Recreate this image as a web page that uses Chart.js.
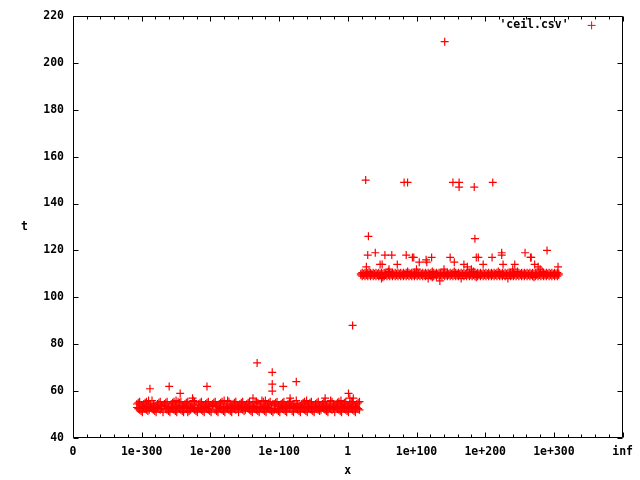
<!DOCTYPE html>
<html><head><meta charset="utf-8">
<script src="https://cdn.jsdelivr.net/npm/chart.js@4/dist/chart.umd.min.js"></script>
<style>html,body{margin:0;padding:0;background:#fff;}canvas{display:block;}</style>
</head><body>
<canvas id="c" width="640" height="480"></canvas>
<script>
// x values are decimal exponents (log10 of x); -400 stands for 0 and 400 for inf
const xTickValues = [-400, -300, -200, -100, 0, 100, 200, 300, 400];
const xTickLabels = ['0', '1e-300', '1e-200', '1e-100', '1', '1e+100', '1e+200', '1e+300', 'inf'];
const yTickValues = [40, 60, 80, 100, 120, 140, 160, 180, 200, 220];
const seriesLabel = "'ceil.csv'";
const xTitle = 'x';
const yTitle = 't';

// dense band of small inputs (two samples per x)
const lowBandX = [-307,-305,-303,-301,-299,-297,-295,-293,-291,-289,
  -287,-285,-283,-281,-279,-277,-275,-273,-271,-269,
  -267,-265,-263,-261,-259,-257,-255,-253,-251,-249,
  -247,-245,-243,-241,-239,-237,-235,-233,-231,-229,
  -227,-225,-223,-221,-219,-217,-215,-213,-211,-209,
  -207,-205,-203,-201,-199,-197,-195,-193,-191,-189,
  -187,-185,-183,-181,-179,-177,-175,-173,-171,-169,
  -167,-165,-163,-161,-159,-157,-155,-153,-151,-149,
  -147,-145,-143,-141,-139,-137,-135,-133,-131,-129,
  -127,-125,-123,-121,-119,-117,-115,-113,-111,-109,
  -107,-105,-103,-101,-99,-97,-95,-93,-91,-89,
  -87,-85,-83,-81,-79,-77,-75,-73,-71,-69,
  -67,-65,-63,-61,-59,-57,-55,-53,-51,-49,
  -47,-45,-43,-41,-39,-37,-35,-33,-31,-29,
  -27,-25,-23,-21,-19,-17,-15,-13,-11,-9,
  -7,-5,-3,-1,1,3,5,7,9,11,
  13,15,17];
const lowBandY = [53,55,52,54,51, 53,55,52,54,52, 53,56,52,54,51, 53,55,52,54,51,
  54,55,52,53,51, 53,55,52,54,51, 53,55,52,54,51, 53,55,51,54,52,
  53,56,52,54,51, 53,55,52,54,51, 53,55,52,54,51, 54,55,52,54,51,
  53,55,52,53,51, 53,56,52,54,51, 53,55,52,54,51, 53,55,52,54,52,
  53,55,52,54,51, 53,55,52,55,51, 53,56,52,54,51, 53,55,52,54,51,
  52,55,52,54,51, 53,55,52,54,51, 53,55,53,54,51, 53,56,52,54,51,
  53,55,52,54,51, 53,55,52,54,51, 53,55,52,54,52, 53,55,52,54,51,
  53,56,52,54,51, 53,55,52,54,51, 53,55,52,54,51, 53,55,52,54,51,
  53,55,52];
const lowBandY2 = [54.5,52.5,55.5,51.5,53.5, 54.5,52.5,55.5,51.5,53.5, 54.5,52.5,54.5,51.5,53.5, 54.5,52.5,55.5,52.5,53.5,
  54.5,52.5,55.5,51.5,53.5, 54.5,52.5,55.5,51.5,53.5, 55.5,52.5,55.5,51.5,53.5, 54.5,52.5,55.5,51.5,53.5,
  54.5,52.5,55.5,51.5,52.5, 54.5,52.5,55.5,51.5,53.5, 54.5,52.5,55.5,51.5,53.5, 54.5,53.5,55.5,51.5,53.5,
  54.5,52.5,55.5,51.5,53.5, 54.5,52.5,55.5,51.5,53.5, 54.5,52.5,55.5,52.5,53.5, 54.5,52.5,55.5,51.5,53.5,
  54.5,52.5,55.5,51.5,53.5, 53.5,52.5,55.5,51.5,53.5, 54.5,52.5,55.5,51.5,53.5, 54.5,52.5,55.5,51.5,54.5,
  54.5,52.5,55.5,51.5,53.5, 54.5,52.5,55.5,51.5,53.5, 54.5,52.5,55.5,51.5,53.5, 54.5,52.5,54.5,51.5,53.5,
  54.5,52.5,55.5,51.5,53.5, 54.5,52.5,55.5,51.5,53.5, 54.5,52.5,55.5,51.5,53.5, 54.5,52.5,55.5,51.5,53.5,
  54.5,52.5,55.5,52.5,53.5, 54.5,52.5,55.5,51.5,53.5, 54.5,52.5,55.5,51.5,53.5, 54.5,52.5,55.5,51.5,53.5,
  54.5,52.5,55.5];

// dense band of large inputs (two samples per x)
const highBandX = [19,21,23,25,27,29,31,33,35,37,
  39,41,43,45,47,49,51,53,55,57,
  59,61,63,65,67,69,71,73,75,77,
  79,81,83,85,87,89,91,93,95,97,
  99,101,103,105,107,109,111,113,115,117,
  119,121,123,125,127,129,131,133,135,137,
  139,141,143,145,147,149,151,153,155,157,
  159,161,163,165,167,169,171,173,175,177,
  179,181,183,185,187,189,191,193,195,197,
  199,201,203,205,207,209,211,213,215,217,
  219,221,223,225,227,229,231,233,235,237,
  239,241,243,245,247,249,251,253,255,257,
  259,261,263,265,267,269,271,273,275,277,
  279,281,283,285,287,289,291,293,295,297,
  299,301,303,305,307];
const highBandY = [110,109,110,109,110,109,111,109,110,109,
  110,109,110,109,110,108,110,109,110,109,
  111,109,110,109,110,109,110,109,110,109,
  110,109,110,109,111,109,110,109,110,109,
  110,109,110,109,110,109,110,109,110,108,
  110,109,111,109,110,109,110,109,110,109,
  110,109,110,109,110,109,110,109,111,109,
  110,109,110,108,110,109,110,109,110,109,
  110,109,111,109,110,109,110,109,110,109,
  110,109,110,109,110,109,110,109,110,109,
  111,109,110,109,110,109,110,108,110,109,
  110,109,110,109,111,109,110,109,110,109,
  110,109,110,109,110,109,110,109,110,109,
  110,109,111,109,110,109,110,109,110,109,
  110,109,110,109,110];
const highBandY2 = [109.5,110.5,109.5,110.5,109.5,110.5,109.5,110.5,109.5,110.5,
  109.5,110.5,109.5,110.5,109.5,110.5,108.5,110.5,109.5,110.5,
  109.5,110.5,109.5,110.5,109.5,110.5,109.5,110.5,109.5,110.5,
  109.5,110.5,109.5,110.5,109.5,110.5,109.5,110.5,109.5,110.5,
  109.5,110.5,109.5,110.5,109.5,110.5,109.5,110.5,109.5,110.5,
  109.5,110.5,108.5,110.5,109.5,110.5,109.5,110.5,109.5,110.5,
  109.5,110.5,109.5,110.5,109.5,110.5,109.5,110.5,109.5,110.5,
  109.5,110.5,109.5,110.5,109.5,110.5,109.5,110.5,109.5,110.5,
  109.5,110.5,109.5,110.5,108.5,110.5,109.5,110.5,109.5,110.5,
  109.5,110.5,109.5,110.5,109.5,110.5,109.5,110.5,109.5,110.5,
  109.5,110.5,109.5,110.5,109.5,110.5,109.5,110.5,109.5,110.5,
  109.5,110.5,109.5,110.5,109.5,110.5,109.5,110.5,109.5,110.5,
  109.5,110.5,109.5,110.5,109.5,110.5,108.5,110.5,109.5,110.5,
  109.5,110.5,109.5,110.5,109.5,110.5,109.5,110.5,109.5,110.5,
  109.5,110.5,109.5,110.5,109.5];

// isolated points
const outlierX = [-288,-260,-244,-205,-132,-110,-110,-110,-94,-75,1,3,-226,-138,-84,-33,8,-290,-250,-180,-120,-60,-10,
  7,26,82,87,153,162,162,184,211,141,30,185,40,29,54,64,85,94,96,104,115,114,122,134,149,155,169,174,
  187,190,197,210,224,224,226,243,258,266,267,272,277,290,306,47,50,72,27,60,100,140,180,240,280];
const outlierY = [61,62,59,62,72,68,63,60,62,64,59,57,57,57,57,57,57,56,56,56,56,56,56,
  88,150,149,149,149,149,147,147,149,209,126,125,119,118,118,118,118,117,117,115,115,116,117,107,117,115,114,113,
  117,117,114,117,119,118,114,114,119,117,117,114,113,120,113,114,114,114,113,112,112,112,112,112,112];

const points = [];
function addPoints(xs, ys) { for (let i = 0; i < xs.length; i++) points.push({x: xs[i], y: ys[i]}); }
addPoints(lowBandX, lowBandY);
addPoints(lowBandX, lowBandY2);
addPoints(highBandX, highBandY);
addPoints(highBandX, highBandY2);
addPoints(outlierX, outlierY);

const FONT_FAMILY = "'DejaVu Sans Mono', 'Liberation Mono', monospace";
const FONT = "bold 11.5px " + FONT_FAMILY;

const framePlugin = {
  id: 'frame',
  afterDraw(chart) {
    const {ctx, chartArea: a, scales: {x, y}} = chart;
    const L = Math.round(a.left) + 0.5, R = Math.round(a.right) - 0.5;
    const T = Math.round(a.top) + 0.5, B = Math.round(a.bottom) - 0.5;
    ctx.save();
    ctx.strokeStyle = '#000';
    ctx.lineWidth = 1;
    ctx.beginPath();
    ctx.rect(L, T, R - L, B - T);
    // x ticks (major + minor), inward on bottom and top
    for (let v = x.min; v <= x.max; v += 20) {
      const px = Math.round(x.getPixelForValue(v)) + 0.5;
      const len = xTickValues.includes(v) ? 5 : 3;
      ctx.moveTo(px, B); ctx.lineTo(px, B - len);
      ctx.moveTo(px, T); ctx.lineTo(px, T + len);
    }
    for (const v of yTickValues) {
      const py = Math.round(y.getPixelForValue(v)) + 0.5;
      ctx.moveTo(L, py); ctx.lineTo(L + 5, py);
      ctx.moveTo(R, py); ctx.lineTo(R - 5, py);
    }
    ctx.stroke();
    // titles
    ctx.fillStyle = '#000';
    ctx.font = FONT;
    ctx.textAlign = 'center';
    ctx.textBaseline = 'middle';
    ctx.fillText(xTitle, (a.left + a.right) / 2, a.bottom + 33);
    ctx.fillText(yTitle, 24.5, (a.top + a.bottom) / 2);
    // key
    ctx.textAlign = 'right';
    ctx.fillText(seriesLabel, a.right - 54, a.top + 9.5);
    const kx = a.right - 31, ky = a.top + 9.5;
    ctx.strokeStyle = '#ff0000';
    ctx.beginPath();
    ctx.moveTo(kx - 4, ky); ctx.lineTo(kx + 4, ky);
    ctx.moveTo(kx, ky - 4); ctx.lineTo(kx, ky + 4);
    ctx.stroke();
    ctx.restore();
  }
};

new Chart(document.getElementById('c'), {
  type: 'scatter',
  data: {
    datasets: [{
      label: seriesLabel,
      data: points,
      pointStyle: 'cross',
      pointRadius: 4,
      pointBorderWidth: 1.2,
      borderColor: '#ff0000',
      backgroundColor: '#ff0000',
      showLine: false
    }]
  },
  options: {
    responsive: false,
    animation: false,
    layout: {padding: {left: 0, top: 14, right: 17, bottom: 0}},
    plugins: {legend: {display: false}, tooltip: {enabled: false}},
    scales: {
      x: {
        type: 'linear', min: -400, max: 400,
        afterFit(s) { s.height = 42; },
        grid: {display: false, drawTicks: false},
        border: {display: false},
        ticks: {
          stepSize: 100, autoSkip: false, maxRotation: 0, padding: 7, color: '#000',
          font: {family: FONT_FAMILY, size: 11.5, weight: 'bold'},
          callback(v) { const i = xTickValues.indexOf(v); return i < 0 ? '' : xTickLabels[i]; }
        }
      },
      y: {
        type: 'linear', min: 40, max: 220,
        afterFit(s) { s.width = 73; },
        grid: {display: false, drawTicks: false},
        border: {display: false},
        ticks: {
          stepSize: 20, padding: 9, color: '#000',
          font: {family: FONT_FAMILY, size: 11.5, weight: 'bold'}
        }
      }
    }
  },
  plugins: [framePlugin]
});
</script>
</body></html>
